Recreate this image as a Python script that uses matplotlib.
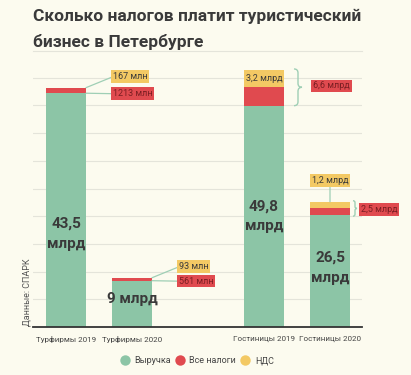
import numpy as np
import matplotlib.pyplot as plt
from matplotlib.path import Path
from matplotlib.patches import PathPatch
from matplotlib.lines import Line2D

# bar heights as drawn in the picture (the graphic is not to scale)
categories = ['Турфирмы 2019', 'Турфирмы 2020', 'Гостиницы 2019', 'Гостиницы 2020']
revenue = [42.2, 8.36, 39.95, 20.2]
all_taxes = [0.9, 0.45, 3.43, 1.2]
vat = [0.1, 0.08, 3.0, 1.2]

revenue_labels = ['43,5\nмлрд', '9 млрд', '49,8\nмлрд', '26,5\nмлрд']
tax_labels = ['1213 млн', '561 млн', '6,6 млрд', '2,5 млрд']
vat_labels = ['167 млн', '93 млн', '3,2 млрд', '1,2 млрд']
legend_labels = ['Выручка', 'Все налоги', 'НДС']

title = 'Сколько налогов платит туристический\nбизнес в Петербурге'
source = 'Данные: СПАРК'

BG = '#fcfbef'
GREEN = '#8cc5a6'
RED = '#e04a4f'
YELLOW = '#f3c964'
DARK = '#3a3a3a'
LEADER = '#9fcfb5'

plt.rcParams['font.family'] = ['Roboto', 'DejaVu Sans']

W, H = 411, 375
fig = plt.figure(figsize=(W / 100, H / 100), dpi=100, facecolor=BG)
ax = fig.add_axes([33 / W, 48 / H, 329 / W, 267 / H])
ax.set_facecolor(BG)

slots = [0, 1, 3, 4]
px_x = 1 / 66        # x data units per pixel
px_y = 1 / 5.54      # y data units per pixel
width = 40 * px_x

ax.bar(slots, revenue, width, color=GREEN, zorder=2)
ax.bar(slots, all_taxes, width, bottom=revenue, color=RED, zorder=2)
top2 = np.add(revenue, all_taxes)
ax.bar(slots, vat, width, bottom=top2, color=YELLOW, zorder=2)
tops = top2 + np.array(vat)

ax.set_xlim(-0.5, -0.5 + 329 * px_x)
ax.set_ylim(0, 267 * px_y)
ax.set_yticks(np.arange(5, 50, 5))
ax.yaxis.grid(True, color='#e4e4da', lw=0.8)
ax.set_axisbelow(True)
ax.tick_params(left=False, labelleft=False, bottom=False, pad=3)
ax.set_xticks(slots, categories, fontsize=5.8, color='#444444')
for s in ['left', 'right', 'top']:
    ax.spines[s].set_visible(False)
ax.spines['bottom'].set_color('#333333')
ax.spines['bottom'].set_linewidth(1.3)

# big labels inside green bars
label_pos = [0.4, 0.6, 0.5, 0.53]
for x, v, lab, f in zip(slots, revenue, revenue_labels, label_pos):
    ax.text(x, v * f, lab, ha='center', va='center', fontsize=11,
            weight='bold', color=DARK, linespacing=1.55, zorder=3)

box_y = dict(boxstyle='square,pad=0.2', fc=YELLOW, ec='none')
box_r = dict(boxstyle='square,pad=0.2', fc=RED, ec='none')
lead = dict(arrowstyle='-', color=LEADER, lw=0.9, shrinkA=0, shrinkB=0)

# tour firms: leader lines from bar edge
for i in [0, 1]:
    xr = slots[i] + width / 2
    ax.annotate(vat_labels[i], xy=(xr, tops[i]), xytext=(27, 11),
                textcoords='offset pixels', ha='left', va='center',
                fontsize=6.5, color=DARK, bbox=box_y,
                arrowprops=dict(lead, relpos=(0, 0.5)), zorder=4)
    ax.annotate(tax_labels[i], xy=(xr, revenue[i]), xytext=(27, -0.5),
                textcoords='offset pixels', ha='left', va='center',
                fontsize=6.5, color='#7a1e22', bbox=box_r,
                arrowprops=dict(lead, relpos=(0, 0.5)), zorder=4)


def brace(x0, w, y0, y1):
    # curly brace opening left, tip pointing right
    xm = x0 + w / 2
    ym = (y0 + y1) / 2
    r = (w / 2) / px_x * px_y
    verts = [(x0, y1), (xm, y1), (xm, y1 - r), (xm, ym + r), (xm, ym), (x0 + w, ym),
             (xm, ym), (xm, ym - r), (xm, y0 + r), (xm, y0), (x0, y0)]
    codes = [Path.MOVETO, Path.CURVE3, Path.CURVE3, Path.LINETO, Path.CURVE3, Path.CURVE3,
             Path.CURVE3, Path.CURVE3, Path.LINETO, Path.CURVE3, Path.CURVE3]
    ax.add_patch(PathPatch(Path(verts, codes), fc='none', ec=LEADER, lw=1.0,
                           clip_on=False, zorder=4))


# hotels 2019: vat text on the yellow segment, brace to all taxes
i = 2
xr = slots[i] + width / 2
ax.text(slots[i], top2[i] + vat[i] / 2, vat_labels[i], ha='center', va='center',
        fontsize=6.5, color=DARK, zorder=4)
brace(xr + 10 * px_x, 8 * px_x, revenue[i], tops[i] + 0.2)
ax.text(xr + 29 * px_x, (revenue[i] + tops[i]) / 2 + 2 * px_y, tax_labels[i],
        ha='left', va='center', fontsize=6.5, color='#7a1e22', bbox=box_r,
        zorder=4, clip_on=False)

# hotels 2020: vat box above, brace to all taxes
i = 3
xr = slots[i] + width / 2
ax.annotate(vat_labels[i], xy=(slots[i], tops[i]), xytext=(0, 17),
            textcoords='offset pixels', ha='center', va='bottom',
            fontsize=6.5, color=DARK, bbox=box_y,
            arrowprops=dict(lead, relpos=(0.5, 0)), zorder=4)
brace(xr + 3 * px_x, 4 * px_x, revenue[i] - 0.2, tops[i] + 0.2)
ax.text(xr + 11 * px_x, (revenue[i] + tops[i]) / 2 - 1 * px_y, tax_labels[i],
        ha='left', va='center', fontsize=6.5, color='#7a1e22', bbox=box_r,
        zorder=4, clip_on=False)

# title lines and rule
for k, line in enumerate(title.split('\n')):
    fig.text(33 / W, 1 - (20.5 + 26.5 * k) / H, line, ha='left', va='baseline',
             fontsize=12.5, weight='bold', color=DARK)
fig.add_artist(Line2D([33 / W, 362 / W], [1 - 51 / H, 1 - 51 / H],
                      color='#e4e4da', lw=0.8))

fig.text(26.7 / W, 1 - 326 / H, source, rotation=90, ha='center', va='bottom',
         fontsize=6.5, color='#555555')

handles = [Line2D([], [], ls='none', marker='o', ms=7.5, mfc=c, mec='none')
           for c in [GREEN, RED, YELLOW]]
fig.legend(handles, legend_labels, loc='center', bbox_to_anchor=(197 / W, 1 - 360.7 / H),
           ncol=3, frameon=False, fontsize=6.5, handletextpad=0.55, columnspacing=0.5,
           handlelength=1.0, labelcolor='#444444')

fig.savefig('out.png', dpi=100, facecolor=BG)
